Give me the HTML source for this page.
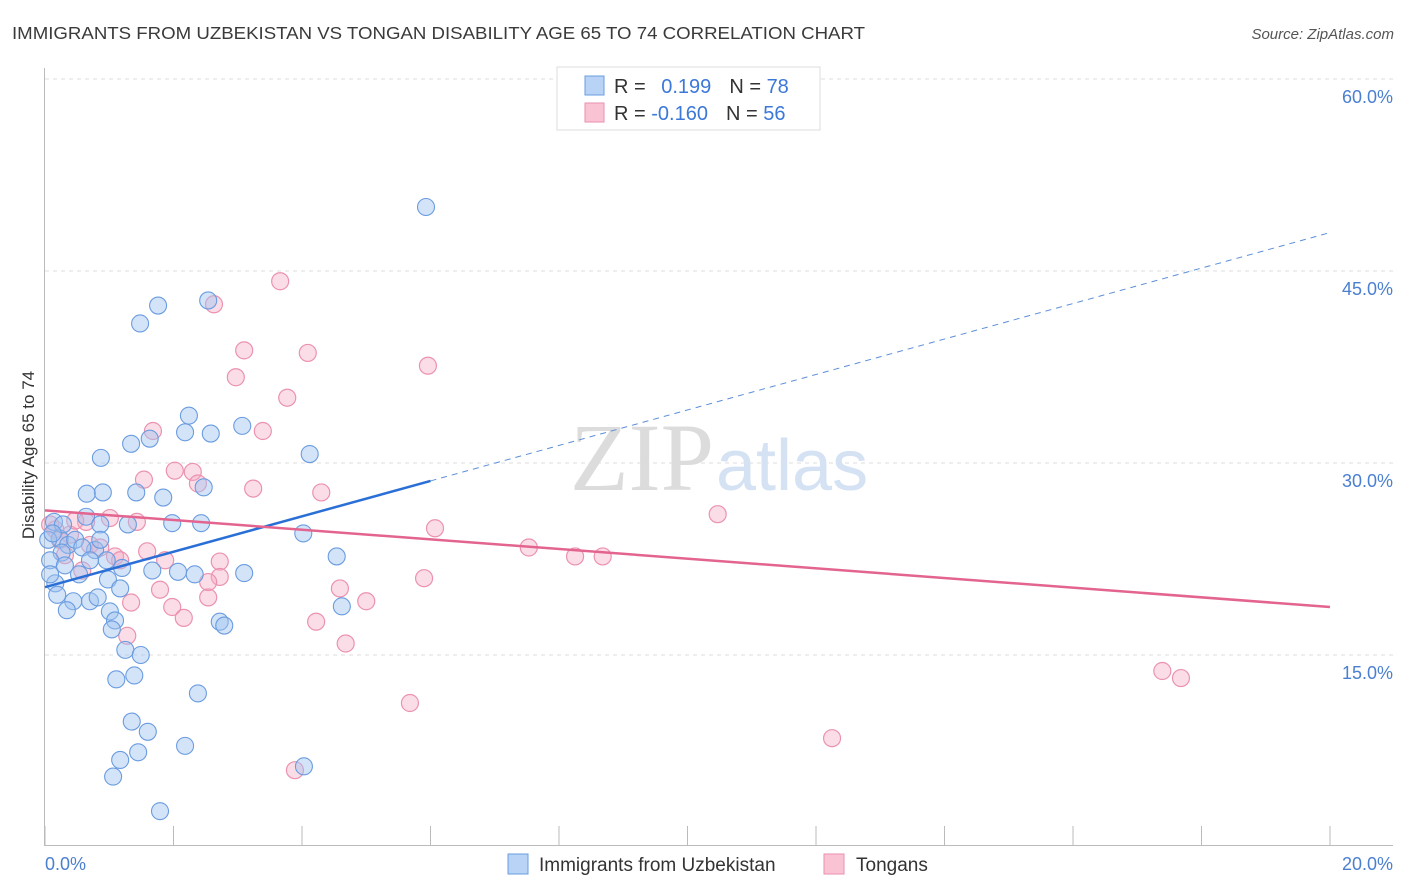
<!DOCTYPE html>
<html><head><meta charset="utf-8"><style>
body{margin:0;background:#fff;font-family:"Liberation Sans",sans-serif;}
svg{display:block}
</style></head><body>
<svg width="1406" height="892">
<text x="12" y="39" font-size="17.5" fill="#3a3a3a" textLength="853" lengthAdjust="spacingAndGlyphs">IMMIGRANTS FROM UZBEKISTAN VS TONGAN DISABILITY AGE 65 TO 74 CORRELATION CHART</text>
<text x="1394" y="39" font-size="15" fill="#555" font-style="italic" text-anchor="end">Source: ZipAtlas.com</text>
<g id="grid"></g>
<g id="axes"></g>
<text x="714" y="490" font-size="96" fill="#dcdcdc" text-anchor="end" font-family="Liberation Serif">ZIP</text>
<text x="716" y="490" font-size="72" fill="#d4e2f4">atlas</text>
<g id="pts"></g>
<g id="lines"></g>
<text x="0" y="0" transform="translate(34,455) rotate(-90)" font-size="17" fill="#333" text-anchor="middle">Disability Age 65 to 74</text>
<g>
<rect x="557" y="67" width="263" height="63" fill="#fff" stroke="#ddd"/>
<rect x="585" y="76" width="19" height="19" fill="#b8d3f5" stroke="#6a9ce0"/>
<rect x="585" y="103" width="19" height="19" fill="#f9c3d4" stroke="#ea8fae"/>
<text x="614" y="93" font-size="20" fill="#333">R = <tspan fill="#3b78d8" dx="10">0.199</tspan><tspan dx="18" fill="#333">N = </tspan><tspan fill="#3b78d8">78</tspan></text>
<text x="614" y="120" font-size="20" fill="#333">R = <tspan fill="#3b78d8">-0.160</tspan><tspan dx="18" fill="#333">N = </tspan><tspan fill="#3b78d8">56</tspan></text>
</g>
<g>
<rect x="508" y="854" width="20" height="20" fill="#b8d3f5" stroke="#6a9ce0"/>
<text x="539" y="871" font-size="19" fill="#333">Immigrants from Uzbekistan</text>
<rect x="824" y="854" width="20" height="20" fill="#f9c3d4" stroke="#ea8fae"/>
<text x="856" y="871" font-size="19" fill="#333">Tongans</text>
</g>
</svg>
<script>
const blueX=[5.93,2.54,1.76,1.48,2.24,2.18,2.58,3.07,1.63,1.34,0.87,4.12,2.47,1.84,1.42,0.90,0.65,0.64,0.86,1.29,1.98,2.43,4.02,0.14,0.23,0.36,0.47,0.78,0.26,0.96,1.20,1.67,2.07,2.33,3.10,4.54,0.08,0.16,0.53,0.98,1.17,0.19,0.44,0.70,0.82,0.34,1.01,1.09,1.04,2.72,2.79,4.62,1.25,1.49,1.11,1.39,2.38,1.35,1.60,2.18,1.45,1.17,1.06,1.79,4.03,0.05,0.08,0.31,0.58,0.70,0.28,0.86,0.12];
const blueY=[50.0,42.7,42.3,40.9,33.7,32.4,32.3,32.9,31.9,31.5,30.4,30.7,28.1,27.3,27.7,27.7,27.6,25.8,25.2,25.2,25.3,25.3,24.5,25.4,24.1,23.6,24.0,23.2,23.0,22.4,21.8,21.6,21.5,21.3,21.4,22.7,22.4,20.6,21.3,20.9,20.2,19.7,19.2,19.2,19.5,18.5,18.4,17.7,17.0,17.6,17.3,18.8,15.4,15.0,13.1,13.4,12.0,9.8,9.0,7.9,7.4,6.8,5.5,2.8,6.3,24.0,21.3,22.0,23.4,22.4,25.2,24.0,24.5];
const pinkX=[8.20,3.66,2.63,3.10,4.09,5.96,2.97,3.77,1.68,3.39,2.02,2.30,1.54,2.38,3.24,4.30,10.47,6.07,1.01,1.43,0.64,0.16,0.39,0.70,1.09,1.17,1.59,1.87,2.72,7.53,8.25,8.68,0.58,2.72,5.90,1.79,4.59,5.00,1.34,1.98,2.54,2.16,4.22,4.68,1.28,5.68,3.89,12.25,17.39,17.68,0.23,0.47,0.86,2.54,0.08,0.31];
const pinkY=[58.1,44.2,42.4,38.8,38.6,37.6,36.7,35.1,32.5,32.5,29.4,29.3,28.7,28.4,28.0,27.7,26.0,24.9,25.7,25.4,25.4,24.8,24.4,23.6,22.7,22.4,23.1,22.4,22.3,23.4,22.7,22.7,21.6,21.1,21.0,20.1,20.2,19.2,19.1,18.75,19.5,17.9,17.6,15.9,16.5,11.25,6.0,8.5,13.75,13.2,24.0,25.5,23.4,20.7,25.2,22.8];
const yTicks=[15,30,45,60];
const yTickLabels=["15.0%","30.0%","45.0%","60.0%"];
const xTicks=[0,2,4,6,8,10,12,14,16,18,20];
const blueTrend=[[0,20.3],[6,28.6],[20,48.0]];
const pinkTrend=[[0,26.3],[20,18.75]];
const NS="http://www.w3.org/2000/svg";
const sx=v=>45+v*64.25, sy=v=>847-v*12.8;
function mk(t,a,p){const e=document.createElementNS(NS,t);for(const k in a)e.setAttribute(k,a[k]);p.appendChild(e);return e;}
const grid=document.getElementById('grid'),axes=document.getElementById('axes');
yTicks.forEach((v,i)=>{
 const l=mk('line',{x1:45,x2:1393,y1:sy(v),y2:sy(v),stroke:'#ddd','stroke-dasharray':'4 4'},grid);
 
 
 const t=mk('text',{x:1393,y:sy(v)+24,'font-size':18,fill:'#4a7fd0','text-anchor':'end'},axes);
 t.textContent=yTickLabels[i];
 
 
});
mk('line',{x1:44.5,x2:44.5,y1:68,y2:846,stroke:'#bbb'},axes);
mk('line',{x1:45,x2:1393,y1:845.5,y2:845.5,stroke:'#bbb'},axes);
xTicks.forEach(v=>{const l=mk('line',{x1:sx(v),x2:sx(v),y1:826,y2:846,stroke:'#bbb'},axes);
 
 });
let t0=mk('text',{x:45,y:870,'font-size':18,fill:'#4a7fd0'},axes);t0.textContent='0.0%';


let t1=mk('text',{x:1393,y:870,'font-size':18,fill:'#4a7fd0','text-anchor':'end'},axes);t1.textContent='20.0%';


const pts=document.getElementById('pts');
pinkX.forEach((x,i)=>{const c=mk('circle',{cx:sx(x),cy:sy(pinkY[i]),r:8.5,fill:'rgba(245,170,195,0.4)',stroke:'#eb92b0','stroke-width':1.2},pts);
 
 });
blueX.forEach((x,i)=>{const c=mk('circle',{cx:sx(x),cy:sy(blueY[i]),r:8.5,fill:'rgba(160,195,240,0.45)',stroke:'#6a9ce0','stroke-width':1.1},pts);
 
 });
const lines=document.getElementById('lines');
let b1=mk('line',{x1:sx(blueTrend[0][0]),y1:sy(blueTrend[0][1]),x2:sx(blueTrend[1][0]),y2:sy(blueTrend[1][1]),stroke:'#2a6fd6','stroke-width':2.5},lines);


let b2=mk('line',{x1:sx(blueTrend[1][0]),y1:sy(blueTrend[1][1]),x2:sx(blueTrend[2][0]),y2:sy(blueTrend[2][1]),stroke:'#5b8fd8','stroke-width':1,'stroke-dasharray':'6 5'},lines);


let p1=mk('line',{x1:sx(pinkTrend[0][0]),y1:sy(pinkTrend[0][1]),x2:sx(pinkTrend[1][0]),y2:sy(pinkTrend[1][1]),stroke:'#e3648f','stroke-width':2.5},lines);


</script>
</body></html>
